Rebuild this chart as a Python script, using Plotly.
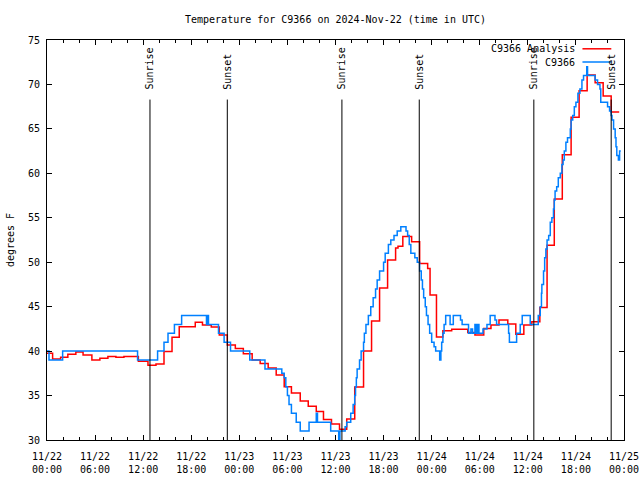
import plotly.graph_objects as go
import pandas as pd

START = pd.Timestamp("2024-11-22 00:00")

# Hours since 2024-11-22 00:00 UTC, with the temperature (deg F) from that time on (step data)
analysis_hours = [0, 0.7, 1.7, 2.6, 3.6, 4.5, 5.6, 6.6, 7.6, 8.6, 9.6, 11.4, 12.6, 13.6, 14.6, 15.6,
                  16.5, 18.5, 19.4, 20.5, 21.5, 22.5, 23.5, 24.5, 25.6, 26.6, 27.6, 28.6, 29.6, 30.5,
                  31.6, 32.6, 33.6, 34.5, 35.5, 36.5, 37.4, 38.4, 39.5, 40.5, 41.5, 42.5, 43.5, 43.8,
                  44.4, 45.5, 46.5, 47.5, 47.8, 48.6, 49.4, 50.5, 52.5, 53.4, 54.5, 55.4, 56.4, 57.5,
                  58.5, 59.5, 60.5, 61.5, 62.4, 63.3, 64.3, 65.4, 66.4, 67.4, 68.4, 69.4, 70.4, 71.4]
analysis_temp = [39.75, 39.1, 39.3, 39.65, 39.9, 39.55, 39.0, 39.2, 39.4, 39.3, 39.4, 38.85, 38.4, 38.55, 39.95, 41.55,
                 42.75, 43.25, 42.95, 42.7, 41.8, 40.7, 40.3, 39.7, 39.0, 38.6, 38.1, 37.3, 36.0, 35.3,
                 34.4, 33.8, 33.2, 32.3, 31.8, 31.2, 32.35, 35.95, 40.0, 43.4, 47.1, 50.25, 51.6, 51.8,
                 52.9, 52.3, 49.85, 49.3, 46.3, 41.6, 42.3, 42.45, 42.1, 41.8, 42.55, 42.95, 43.5, 43.05,
                 41.9, 42.95, 43.3, 44.9, 51.9, 57.1, 62.1, 66.3, 69.3, 71.05, 70.2, 68.7, 66.9, 66.9]

station_hours = [0, 0.25, 1.95, 11.3, 13.8, 14.6, 15.1, 15.9, 16.8, 19.9, 20.05, 20.15, 21.4, 22.1, 22.9,
                 25.3, 27.2, 29.3, 29.6, 29.8, 30.0, 30.2, 30.5, 31.1, 31.6, 32.7, 33.6, 33.75, 35.4,
                 36.4, 36.55, 37.2, 37.4, 37.9, 38.2, 38.4, 38.5, 38.6, 38.7, 39.0, 39.2, 39.5, 39.6,
                 39.8, 40.1, 40.4, 40.7, 41.0, 41.2, 41.5, 42.0, 42.2, 42.6, 42.9, 43.3, 43.7, 44.15,
                 44.8, 45.0, 45.2, 45.4, 45.9, 46.2, 46.5, 46.7, 46.85, 47.0, 47.2, 47.35, 47.55, 47.75,
                 48.0, 48.3, 48.5, 49.0, 49.15, 49.25, 49.4, 49.55, 49.75, 50.3, 50.7, 51.6, 51.8, 52.6,
                 52.9, 53.1, 53.4, 53.5, 53.6, 53.7, 53.8, 53.9, 54.4, 54.9, 55.3, 55.9, 56.1, 57.6,
                 57.7, 58.6, 59.05, 59.3, 60.3, 61.3, 61.55, 61.7, 61.75, 61.96, 62.1, 62.25, 62.4, 62.6,
                 62.8, 63.0, 63.2, 63.3, 63.4, 63.6, 63.8, 64.05, 64.25, 64.4, 64.55, 64.75, 64.95, 65.3,
                 65.4, 65.6, 65.8, 66.0, 66.25, 66.5, 66.75, 66.95, 67.35, 67.45, 68.4, 68.7, 69.0, 69.1,
                 69.95, 70.2, 70.4, 70.5, 70.7, 70.9, 71.0, 71.1, 71.3, 71.45, 71.6]
station_temp = [40, 39, 40, 39, 40, 41, 42, 43, 44, 43, 44, 43, 42, 41, 40,
                39, 38, 37.5, 37, 36, 35, 34, 33, 32, 31, 32, 33, 32, 31,
                30, 31, 31.5, 32, 33, 34, 35, 36, 37, 38, 39, 40, 41, 42,
                43, 44, 45, 46, 47, 48, 49, 50, 51, 52, 52.5, 53, 53.5, 54,
                53.5, 53, 52, 51, 50.5, 50, 49, 48, 47, 46, 45, 44, 43, 42,
                41, 40.5, 40, 39, 40, 41, 42, 43, 44, 43, 44, 43.5, 43, 42,
                42.5, 42, 43, 42, 43, 42, 43, 42, 42.5, 43, 44, 43.5, 43, 42,
                41, 42, 43, 44, 43, 44, 45, 46.5, 47.5, 49, 50.5, 51.5, 52.5, 53,
                54.5, 55, 56, 57, 58, 58.5, 59.5, 60, 61, 61.5, 62.5, 63.5, 64, 65,
                66, 66.5, 67.5, 68, 69, 69.5, 70.5, 71, 72, 71, 70.5, 70, 69.5, 68,
                67.5, 67, 66.5, 66, 65, 64, 63, 62, 61.5, 62.5, 62.5]

sunrise_hours = [12.85, 36.8, 60.75]
sunset_hours = [22.5, 46.45, 70.4]

Y_TICKS = [30, 35, 40, 45, 50, 55, 60, 65, 70, 75]

FONT = "DejaVu Sans Mono"


def ts(hours):
    return [START + pd.Timedelta(hours=h) for h in hours]


fig = go.Figure()
fig.add_trace(go.Scatter(x=ts(analysis_hours), y=analysis_temp, mode="lines",
                         line=dict(color="#ff0000", width=1.5, shape="hv"),
                         name="C9366 Analysis"))
fig.add_trace(go.Scatter(x=ts(station_hours), y=station_temp, mode="lines",
                         line=dict(color="#0080ff", width=1.5, shape="hv"),
                         name="C9366"))

# Sunrise / sunset markers
for label, hours in (("Sunrise", sunrise_hours), ("Sunset", sunset_hours)):
    for t in ts(hours):
        fig.add_shape(type="line", xref="x", yref="y", x0=t, x1=t, y0=30, y1=68.3,
                      line=dict(color="black", width=1))
        fig.add_annotation(x=t, y=69.2, xref="x", yref="y", text=label, textangle=-90,
                           showarrow=False, xanchor="center", yanchor="bottom",
                           font=dict(family=FONT, size=10, color="black"))

# gnuplot-style key (text right, sample line at the far right)
key = [("C9366 Analysis", "#ff0000", 0.978), ("C9366", "#0080ff", 0.945)]
for text, color, yk in key:
    fig.add_annotation(x=0.918, y=yk, xref="paper", yref="paper", text=text, showarrow=False,
                       xanchor="right", yanchor="middle",
                       font=dict(family=FONT, size=10, color="black"))
    fig.add_shape(type="line", xref="paper", yref="paper", x0=0.928, x1=0.978, y0=yk, y1=yk,
                  line=dict(color=color, width=1.5))

axis_common = dict(showline=True, linecolor="black", linewidth=1, mirror="allticks",
                   ticks="inside", tickcolor="black", showgrid=False, zeroline=False,
                   automargin=False,
                   tickfont=dict(family=FONT, size=10, color="black"))

fig.update_layout(
    width=640, height=480,
    margin=dict(l=47, r=16, t=40, b=40),
    paper_bgcolor="white", plot_bgcolor="white",
    showlegend=False,
    title=dict(text="Temperature for C9366 on 2024-Nov-22 (time in UTC)",
               x=0.5, xref="paper", xanchor="center", y=1 - 19 / 480, yref="container",
               yanchor="middle", font=dict(family=FONT, size=10, color="black")),
    xaxis=dict(type="date", range=[START, START + pd.Timedelta(hours=72)],
               tick0=START, dtick=6 * 3600 * 1000, tickformat="%m/%d<br>%H:%M",
               ticklen=5, ticklabelstandoff=7,
               minor=dict(dtick=2 * 3600 * 1000, ticks="inside", ticklen=3, tickcolor="black",
                          showgrid=False),
               **axis_common),
    yaxis=dict(range=[30, 75], tickvals=Y_TICKS, ticklen=5, ticklabelstandoff=4,
               title=dict(text="degrees F", standoff=11,
                          font=dict(family=FONT, size=10, color="black")),
               **axis_common),
)

fig.write_html("out.html", config={"displayModeBar": False},
               post_script="document.body.style.margin = '0';")
